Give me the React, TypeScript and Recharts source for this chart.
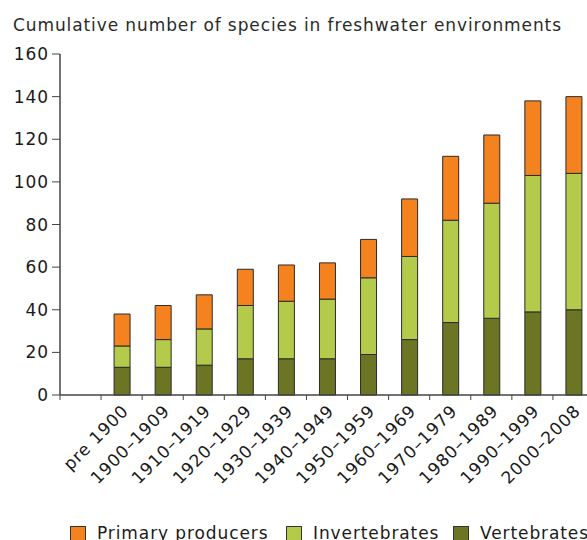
import React from "react";
import { BarChart, Bar, XAxis, YAxis, Legend } from "recharts";

const categories = ["", "pre 1900", "1900–1909", "1910–1919", "1920–1929", "1930–1939", "1940–1949", "1950–1959", "1960–1969", "1970–1979", "1980–1989", "1990–1999", "2000–2008"];
const vertebrates = [null, 13, 13, 14, 17, 17, 17, 19, 26, 34, 36, 39, 40];
const invertebrates = [null, 10, 13, 17, 25, 27, 28, 36, 39, 48, 54, 64, 64];
const primaryProducers = [null, 15, 16, 16, 17, 17, 17, 18, 27, 30, 32, 35, 36];
const yTicks = [0, 20, 40, 60, 80, 100, 120, 140, 160];

const seriesNames = ["Primary producers", "Invertebrates", "Vertebrates"];
const colors = { prim: "#F4821F", inv: "#B4CA4A", vert: "#6B7524" };

const data = categories.map((c, i) => ({
  cat: c,
  vert: vertebrates[i],
  inv: invertebrates[i],
  prim: primaryProducers[i],
}));

const CHART_W = 600;
const CHART_H = 540;
const MARGIN = { top: 54, right: 6, left: 0, bottom: 0 };
const Y_W = 60;
const X_H = 145;
const BAND = (CHART_W - MARGIN.right - MARGIN.left - Y_W) / categories.length;
const FONT = "'DejaVu Sans', Verdana, sans-serif";
const FS = 17;
const LS = 0.9;

const XTick = (props: any) => {
  const { x, y, payload } = props;
  const bx = x - BAND / 2;
  const tx = x + 8;
  const ty = y + 17;
  return (
    <g>
      <line x1={bx} y1={y} x2={bx} y2={y + 5} stroke="#444" strokeWidth={1} />
      {payload.value ? (
        <text
          x={tx}
          y={ty}
          textAnchor="end"
          fontSize={FS}
          fontFamily={FONT}
          letterSpacing={LS}
          fill="#1a1a1a"
          transform={`rotate(-45 ${tx} ${ty})`}
        >
          {payload.value}
        </text>
      ) : null}
    </g>
  );
};

const LegendContent = () => {
  const items = [
    { name: seriesNames[0], color: colors.prim, w: 216 },
    { name: seriesNames[1], color: colors.inv, w: 167 },
    { name: seriesNames[2], color: colors.vert, w: 200 },
  ];
  return (
    <div style={{ display: "flex", whiteSpace: "nowrap", fontFamily: FONT, fontSize: FS, letterSpacing: LS, color: "#1a1a1a", lineHeight: "17px" }}>
      {items.map((it) => (
        <div key={it.name} style={{ display: "flex", alignItems: "flex-start", width: it.w, flex: "none" }}>
          <span style={{ display: "inline-block", width: 14, height: 14, marginTop: 1, background: it.color, border: "1px solid #333", marginRight: 11, flex: "none" }} />
          <span>{it.name}</span>
        </div>
      ))}
    </div>
  );
};

export default function App() {
  return (
    <div style={{ position: "absolute", left: 0, top: 0, width: 587, height: 540, overflow: "hidden", background: "#fff" }}>
      <div style={{ position: "absolute", left: 13, top: 17, fontFamily: FONT, fontSize: FS, letterSpacing: LS, lineHeight: "17px", color: "#2a2a2a", whiteSpace: "nowrap" }}>
        Cumulative number of species in freshwater environments
      </div>
      <BarChart width={CHART_W} height={CHART_H} data={data} margin={MARGIN} barCategoryGap={0}>
        <YAxis
          width={Y_W}
          domain={[0, 160]}
          ticks={yTicks}
          interval={0}
          tickSize={8}
          tickMargin={3}
          axisLine={{ stroke: "#444", strokeWidth: 1.5 }}
          tickLine={{ stroke: "#444" }}
          tick={{ fontSize: FS, fontFamily: FONT, fill: "#1a1a1a", letterSpacing: LS }}
        />
        <XAxis
          dataKey="cat"
          height={X_H}
          interval={0}
          tickSize={0}
          tickMargin={0}
          tickLine={false}
          axisLine={{ stroke: "#444", strokeWidth: 1.5 }}
          tick={<XTick />}
        />
        <Legend
          content={<LegendContent />}
          wrapperStyle={{ left: 70, top: 525, height: 0, width: "auto", bottom: "auto" }}
        />
        <Bar dataKey="vert" name={seriesNames[2]} stackId="a" fill={colors.vert} stroke="#2b2b2b" strokeWidth={1} barSize={16} isAnimationActive={false} />
        <Bar dataKey="inv" name={seriesNames[1]} stackId="a" fill={colors.inv} stroke="#2b2b2b" strokeWidth={1} barSize={16} isAnimationActive={false} />
        <Bar dataKey="prim" name={seriesNames[0]} stackId="a" fill={colors.prim} stroke="#2b2b2b" strokeWidth={1} barSize={16} isAnimationActive={false} />
      </BarChart>
    </div>
  );
}
